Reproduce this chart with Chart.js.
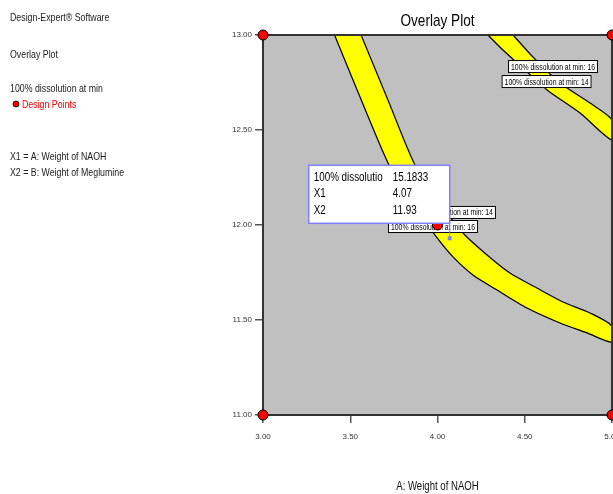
<!DOCTYPE html>
<html>
<head>
<meta charset="utf-8">
<script src="https://cdn.jsdelivr.net/npm/chart.js@4.4.0/dist/chart.umd.min.js"></script>
<style>
  html, body { margin: 0; padding: 0; background: #fff; overflow: hidden; }
  #wrap { position: relative; width: 660px; height: 494px; }
</style>
</head>
<body>
<div id="wrap"><canvas id="overlay" width="660" height="494"></canvas></div>
<script>
// axis ticks
const xTicks = [3.0, 3.5, 4.0, 4.5, 5.0];
const yTicks = [11.0, 11.5, 12.0, 12.5, 13.0];

// left band (contours 16 / 14)
const band1LowerX = [3.41, 3.556, 3.722, 3.842, 3.986, 4.089, 4.203, 4.341, 4.513, 4.702, 4.857, 5.0];
const band1LowerY = [13.0, 12.674, 12.316, 12.132, 11.947, 11.832, 11.737, 11.658, 11.563, 11.484, 11.432, 11.384];
const band1UpperX = [3.562, 3.716, 3.871, 4.01, 4.146, 4.284, 4.415, 4.570, 4.719, 4.874, 5.0];
const band1UpperY = [13.0, 12.658, 12.316, 12.12, 11.958, 11.842, 11.747, 11.668, 11.595, 11.537, 11.468];

// right band (contours 14 / 16)
const band2LowerX = [4.289, 4.375, 4.501, 4.628, 4.817, 5.0];
const band2LowerY = [13.0, 12.921, 12.816, 12.711, 12.589, 12.447];
const band2UpperX = [4.433, 4.547, 4.702, 4.874, 5.0];
const band2UpperY = [13.0, 12.884, 12.747, 12.642, 12.553];

// design points
const designX = [3.0, 5.0, 3.0, 5.0, 4.0];
const designY = [13.0, 13.0, 11.0, 11.0, 12.0];

// contour labels: text, x, y
const labelTexts = ['100% dissolution at min: 16', '100% dissolution at min: 14', '100% dissolution at min: 14', '100% dissolution at min: 16'];
const labelX = [4.662, 4.625, 4.077, 3.974];
const labelY = [12.834, 12.755, 12.066, 11.992];

// flag readout
const flagNames = ['100% dissolutio', 'X1', 'X2'];
const flagValues = ['15.1833', '4.07', '11.93'];
const flagPoint = [4.07, 11.93];

const sideLines = ['Design-Expert\u00AE Software', 'Overlay Plot', '100% dissolution at min', 'Design Points', 'X1 = A: Weight of NAOH', 'X2 = B: Weight of Meglumine'];
const xTitle = 'A: Weight of NAOH';

const FONT = "'Liberation Sans Narrow', 'Arial Narrow', 'Liberation Sans', Arial, sans-serif";

function pts(xs, ys) {
    return xs.map((x, i) => ({ x: x, y: ys[i] }));
}

// closed outline: one contour forward, the other one back
function bandShape(ax, ay, bx, by) {
    return pts(ax, ay).concat(pts(bx, by).reverse());
}

function band(ax, ay, bx, by) {
    return {
        data: bandShape(ax, ay, bx, by),
        showLine: true,
        tension: 0.25,
        borderWidth: 1.2,
        borderColor: '#000',
        backgroundColor: '#ffff00',
        pointRadius: 0,
        fill: 'shape',
        order: 2
    };
}

// narrow-looking text: squeeze the normal face horizontally
function narrowText(ctx, text, x, y, squeeze) {
    const w = ctx.measureText(text).width;
    ctx.fillText(text, x, y, w * (squeeze || 0.8));
}

const overlayPlugin = {
    id: 'overlayPlugin',
    beforeDraw(chart) {
        const { ctx, chartArea: a } = chart;
        ctx.save();
        ctx.fillStyle = '#c0c0c0';
        ctx.fillRect(a.left, a.top, a.right - a.left, a.bottom - a.top);
        ctx.restore();
    },
    beforeDatasetDraw(chart, args) {
        if (args.meta.label !== 'Design Points') return;
        const { ctx, chartArea: a, scales } = chart;
        ctx.save();
        // frame
        ctx.strokeStyle = '#333';
        ctx.lineWidth = 2;
        ctx.strokeRect(a.left, a.top, a.right - a.left, a.bottom - a.top);
        // contour labels
        ctx.font = '9px ' + FONT;
        ctx.textAlign = 'center';
        ctx.textBaseline = 'middle';
        labelTexts.forEach((t, i) => {
            const cx = scales.x.getPixelForValue(labelX[i]);
            const cy = scales.y.getPixelForValue(labelY[i]);
            const w = 90, h = 13;
            ctx.fillStyle = '#fff';
            ctx.fillRect(cx - w / 2, cy - h / 2, w, h);
            ctx.strokeStyle = '#000';
            ctx.lineWidth = 1;
            ctx.strokeRect(cx - w / 2 + 0.5, cy - h / 2 + 0.5, w - 1, h - 1);
            ctx.fillStyle = '#000';
            ctx.fillText(t, cx, cy + 0.5, w - 6);
        });
        ctx.restore();
    },
    afterDatasetsDraw(chart) {
        const { ctx, scales, chartArea: a } = chart;
        ctx.save();
        // flag box
        const px = scales.x.getPixelForValue(flagPoint[0]);
        const py = scales.y.getPixelForValue(flagPoint[1]);
        const bw = 141, bh = 58;
        const bx = px - bw, by = py - 15 - bh;
        ctx.strokeStyle = '#8080ff';
        ctx.lineWidth = 1;
        ctx.beginPath();
        ctx.moveTo(px, by + bh);
        ctx.lineTo(px, py);
        ctx.stroke();
        ctx.fillStyle = '#8080ff';
        ctx.fillRect(px - 2, py - 2, 4, 4);
        ctx.fillStyle = '#fff';
        ctx.fillRect(bx, by, bw, bh);
        ctx.lineWidth = 1.5;
        ctx.strokeRect(bx, by, bw, bh);
        ctx.fillStyle = '#000';
        ctx.font = '12px ' + FONT;
        ctx.textBaseline = 'middle';
        ctx.textAlign = 'left';
        flagNames.forEach((n, i) => {
            const ry = by + 12 + i * 16.5;
            narrowText(ctx, n, bx + 5, ry, 0.82);
            narrowText(ctx, flagValues[i], bx + 84, ry, 0.82);
        });

        const midX = (a.left + a.right) / 2;
        // title
        ctx.font = '17px ' + FONT;
        ctx.textAlign = 'center';
        ctx.fillStyle = '#000';
        narrowText(ctx, 'Overlay Plot', midX, 21, 0.8);

        // x axis title
        ctx.font = '12px ' + FONT;
        ctx.fillStyle = '#111';
        narrowText(ctx, xTitle, midX, 487, 0.8);

        // side panel
        ctx.font = '11px ' + FONT;
        ctx.textAlign = 'left';
        ctx.fillStyle = '#222';
        narrowText(ctx, sideLines[0], 10, 18);
        narrowText(ctx, sideLines[1], 10, 55);
        narrowText(ctx, sideLines[2], 10, 89);
        ctx.fillStyle = '#ff0000';
        narrowText(ctx, sideLines[3], 22, 105);
        ctx.fillStyle = '#222';
        narrowText(ctx, sideLines[4], 10, 157);
        narrowText(ctx, sideLines[5], 10, 173);
        ctx.beginPath();
        ctx.arc(16, 104, 3, 0, Math.PI * 2);
        ctx.fillStyle = '#ff0000';
        ctx.fill();
        ctx.strokeStyle = '#000';
        ctx.lineWidth = 0.8;
        ctx.stroke();
        ctx.restore();
    }
};

new Chart(document.getElementById('overlay'), {
    type: 'scatter',
    data: {
        datasets: [
            {
                label: 'Design Points',
                data: pts(designX, designY),
                pointRadius: 5,
                pointBackgroundColor: '#ff0000',
                pointBorderColor: '#000',
                pointBorderWidth: 1,
                clip: false,
                order: 0
            },
            band(band1LowerX, band1LowerY, band1UpperX, band1UpperY),
            band(band2LowerX, band2LowerY, band2UpperX, band2UpperY)
        ]
    },
    options: {
        responsive: false,
        animation: false,
        layout: { padding: { top: 35, right: 48, left: 0, bottom: 0 } },
        plugins: {
            legend: { display: false },
            tooltip: { enabled: false }
        },
        scales: {
            x: {
                type: 'linear',
                min: xTicks[0],
                max: xTicks[xTicks.length - 1],
                afterBuildTicks: (s) => { s.ticks = xTicks.map(v => ({ value: v })); },
                afterFit: (s) => { s.height = 79; },
                border: { display: false },
                grid: { drawOnChartArea: false, tickLength: 8, color: '#555', lineWidth: 1.5 },
                ticks: {
                    padding: 9,
                    maxRotation: 0,
                    minRotation: 0,
                    color: '#333',
                    font: { family: FONT, size: 8 },
                    callback: (v) => v.toFixed(2)
                }
            },
            y: {
                type: 'linear',
                min: yTicks[0],
                max: yTicks[yTicks.length - 1],
                afterBuildTicks: (s) => { s.ticks = yTicks.map(v => ({ value: v })); },
                afterFit: (s) => { s.width = 263; },
                border: { display: false },
                grid: { drawOnChartArea: false, tickLength: 8, color: '#555', lineWidth: 1.5 },
                ticks: {
                    padding: 3,
                    color: '#333',
                    font: { family: FONT, size: 8 },
                    callback: (v) => v.toFixed(2)
                }
            }
        }
    },
    plugins: [overlayPlugin]
});
</script>
</body>
</html>
